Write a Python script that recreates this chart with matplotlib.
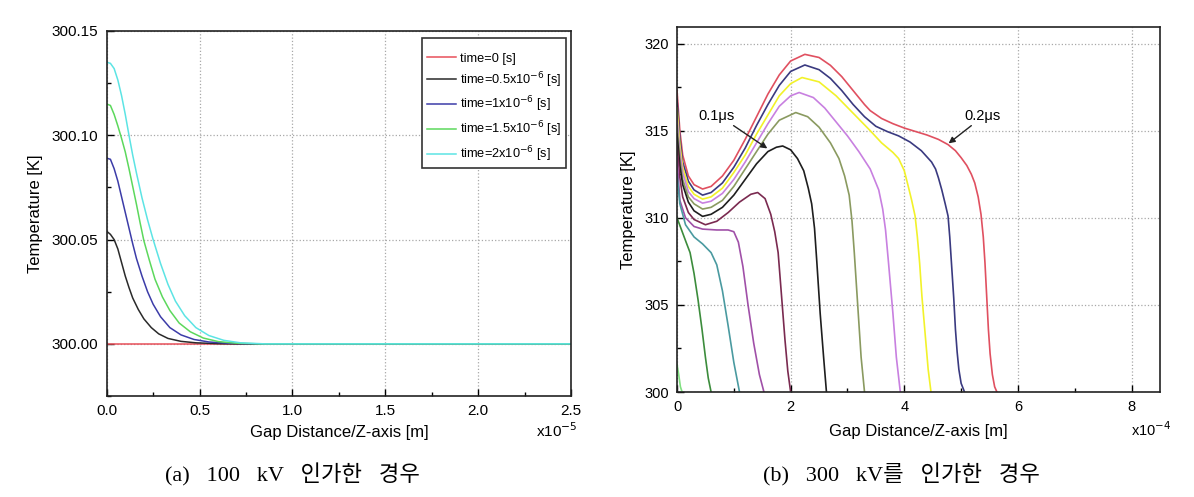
import numpy as np
import matplotlib.pyplot as plt
from matplotlib.ticker import MultipleLocator
from matplotlib.patches import Rectangle

plt.rcParams['font.family'] = ['Liberation Sans', 'DejaVu Sans']

# ---------- (a) 100 kV : x in units of 1e-5 m ----------
a_labels = ["time=0 [s]", "time=0.5x10$^{-6}$ [s]", "time=1x10$^{-6}$ [s]",
            "time=1.5x10$^{-6}$ [s]", "time=2x10$^{-6}$ [s]"]
a_colors = ["#e8505a", "#2a2a2a", "#3c3ca8", "#5cd85c", "#5ce4e4"]

a_x0 = [0.0, 2.5]
a_t0 = [300.0, 300.0]
a_x1 = [0.0, 0.02, 0.04, 0.06, 0.08, 0.10, 0.12, 0.14, 0.17, 0.20, 0.24, 0.28, 0.33,
        0.40, 0.48, 0.60, 0.70, 2.5]
a_t1 = [300.054, 300.0525, 300.050, 300.0455, 300.039, 300.0325, 300.027, 300.022,
        300.0165, 300.012, 300.0078, 300.0048, 300.0026, 300.0012, 300.0005,
        300.0001, 300.0, 300.0]
a_x2 = [0.0, 0.02, 0.04, 0.06, 0.08, 0.10, 0.12, 0.14, 0.16, 0.19, 0.22, 0.25, 0.29,
        0.34, 0.40, 0.47, 0.55, 0.65, 0.78, 2.5]
a_t2 = [300.089, 300.0885, 300.084, 300.078, 300.0705, 300.063, 300.0555, 300.048,
        300.041, 300.0325, 300.025, 300.019, 300.013, 300.0078, 300.0043, 300.0021,
        300.0009, 300.0003, 300.0, 300.0]
a_x3 = [0.0, 0.02, 0.04, 0.06, 0.08, 0.10, 0.12, 0.14, 0.16, 0.18, 0.20, 0.23, 0.26,
        0.30, 0.34, 0.39, 0.45, 0.52, 0.60, 0.70, 0.82, 2.5]
a_t3 = [300.115, 300.1143, 300.110, 300.1045, 300.0985, 300.092, 300.084, 300.0755,
        300.067, 300.058, 300.0495, 300.040, 300.031, 300.0225, 300.016, 300.010,
        300.0058, 300.0028, 300.0011, 300.0003, 300.0, 300.0]
a_x4 = [0.0, 0.02, 0.04, 0.06, 0.08, 0.10, 0.12, 0.14, 0.16, 0.19, 0.22, 0.25, 0.29,
        0.33, 0.37, 0.42, 0.48, 0.55, 0.63, 0.72, 0.85, 2.5]
a_t4 = [300.135, 300.1345, 300.132, 300.1265, 300.119, 300.110, 300.100, 300.0905,
        300.082, 300.070, 300.0595, 300.050, 300.0385, 300.0285, 300.0205, 300.0135,
        300.0078, 300.004, 300.0017, 300.0005, 300.0, 300.0]

# ---------- (b) 300 kV : x in units of 1e-4 m ----------
b_colors = ["#e05060", "#3a3a80", "#f2f22a", "#c880e0", "#8a9a60", "#1e1e1e",
            "#7a2a50", "#a050a8", "#4a9aa0", "#3c8c3c", "#80e080"]

b_red_x = [0, 0.05, 0.1, 0.2, 0.3, 0.45, 0.6, 0.8, 1.0, 1.2, 1.4, 1.6, 1.8, 2.0, 2.25,
           2.5, 2.7, 2.9, 3.1, 3.3, 3.4, 3.6, 3.8, 4.0, 4.2, 4.4, 4.6, 4.77, 4.9, 5.0,
           5.1, 5.18, 5.24, 5.3, 5.35, 5.39, 5.42, 5.45, 5.48, 5.51, 5.55, 5.59, 5.63]
b_red_t = [317.3, 315.0, 313.6, 312.4, 311.9, 311.65, 311.8, 312.4, 313.3, 314.5,
           315.8, 317.1, 318.2, 319.0, 319.38, 319.2, 318.75, 318.1, 317.3, 316.5,
           316.15, 315.7, 315.4, 315.15, 314.95, 314.75, 314.5, 314.2, 313.85, 313.45,
           313.0, 312.5, 312.0, 311.2, 310.2, 308.9, 307.4, 305.5, 303.6, 302.2,
           301.0, 300.3, 300.0]
b_navy_x = [0, 0.05, 0.1, 0.2, 0.3, 0.45, 0.6, 0.8, 1.0, 1.2, 1.4, 1.6, 1.8, 2.0, 2.25,
            2.5, 2.7, 2.9, 3.1, 3.3, 3.5, 3.7, 3.9, 4.1, 4.3, 4.48, 4.55, 4.6, 4.66,
            4.72, 4.77, 4.80, 4.83, 4.87, 4.9, 4.93, 4.96, 5.0, 5.06]
b_navy_t = [316.8, 314.6, 313.2, 312.1, 311.6, 311.3, 311.45, 312.0, 312.9, 314.0,
            315.3, 316.5, 317.6, 318.4, 318.77, 318.5, 318.0, 317.3, 316.5, 315.8,
            315.25, 314.95, 314.7, 314.35, 313.85, 313.2, 312.8, 312.3, 311.6, 310.8,
            310.1, 308.9, 307.4, 305.4, 303.6, 302.3, 301.3, 300.5, 300.0]
b_yel_x = [0, 0.05, 0.1, 0.2, 0.3, 0.45, 0.6, 0.8, 1.0, 1.2, 1.4, 1.6, 1.8, 2.0, 2.2,
           2.5, 2.8, 3.1, 3.4, 3.6, 3.8, 3.9, 4.0, 4.07, 4.13, 4.19, 4.23, 4.27, 4.31,
           4.36, 4.42, 4.47]
b_yel_t = [316.3, 314.2, 312.9, 311.8, 311.35, 311.07, 311.2, 311.7, 312.6, 313.6,
           314.8, 315.9, 317.0, 317.7, 318.05, 317.8, 317.0, 316.0, 315.0, 314.3,
           313.75, 313.4, 312.7, 311.8, 311.0, 310.1, 308.9, 307.4, 305.5, 303.6,
           301.3, 300.0]
b_vio_x = [0, 0.05, 0.1, 0.2, 0.3, 0.45, 0.6, 0.8, 1.0, 1.2, 1.4, 1.6, 1.8, 2.0, 2.15,
           2.4, 2.6, 2.8, 3.0, 3.2, 3.4, 3.55, 3.62, 3.67, 3.72, 3.76, 3.8, 3.86, 3.93]
b_vio_t = [315.8, 313.8, 312.6, 311.5, 311.1, 310.84, 310.95, 311.4, 312.2, 313.2,
           314.3, 315.4, 316.4, 317.0, 317.19, 316.9, 316.3, 315.5, 314.7, 313.8,
           312.8, 311.6, 310.5, 309.3, 307.5, 306.0, 304.5, 302.0, 300.0]
b_oli_x = [0, 0.05, 0.1, 0.2, 0.3, 0.45, 0.6, 0.8, 1.0, 1.2, 1.4, 1.6, 1.8, 2.09,
           2.3, 2.5, 2.7, 2.85, 2.95, 3.03, 3.08, 3.12, 3.18, 3.24, 3.3]
b_oli_t = [315.3, 313.4, 312.2, 311.2, 310.8, 310.5, 310.6, 311.0, 311.8, 312.8,
           313.8, 314.8, 315.6, 316.04, 315.8, 315.2, 314.3, 313.4, 312.4, 311.3,
           309.8, 308.0, 305.0, 302.0, 300.0]
b_blk_x = [0, 0.05, 0.1, 0.2, 0.3, 0.45, 0.6, 0.8, 1.0, 1.2, 1.4, 1.6, 1.75, 1.86,
           2.0, 2.12, 2.23, 2.31, 2.37, 2.42, 2.46, 2.52, 2.58, 2.63]
b_blk_t = [314.8, 313.0, 311.9, 310.9, 310.4, 310.08, 310.2, 310.6, 311.3, 312.2,
           313.1, 313.8, 314.05, 314.12, 313.9, 313.4, 312.7, 311.7, 310.8, 309.4,
           307.5, 304.5, 302.0, 300.0]
b_mar_x = [0, 0.05, 0.1, 0.2, 0.3, 0.5, 0.7, 0.9, 1.1, 1.3, 1.42, 1.55, 1.65, 1.72,
           1.78, 1.84, 1.9, 1.95, 2.0]
b_mar_t = [314.2, 312.3, 311.2, 310.3, 309.9, 309.6, 309.8, 310.3, 310.9, 311.35,
           311.45, 311.1, 310.2, 309.2, 308.0, 305.5, 303.0, 301.2, 300.0]
b_pur_x = [0, 0.05, 0.15, 0.3, 0.45, 0.7, 0.9, 1.0, 1.08, 1.16, 1.25, 1.35, 1.45, 1.53]
b_pur_t = [313.5, 311.0, 310.0, 309.5, 309.35, 309.3, 309.3, 309.2, 308.6, 307.2,
           305.0, 302.8, 301.0, 300.0]
b_tea_x = [0, 0.05, 0.15, 0.3, 0.45, 0.6, 0.7, 0.8, 0.9, 1.0, 1.1]
b_tea_t = [312.5, 310.8, 309.6, 308.9, 308.5, 308.0, 307.3, 305.8, 303.8, 301.7, 300.0]
b_grn_x = [0, 0.08, 0.16, 0.23, 0.3, 0.37, 0.44, 0.5, 0.55, 0.6]
b_grn_t = [310.0, 309.3, 308.6, 308.0, 306.8, 305.3, 303.6, 302.0, 300.8, 300.0]
b_lgr_x = [0, 0.03, 0.06, 0.09]
b_lgr_t = [301.6, 301.0, 300.3, 300.0]

b_xs = [b_red_x, b_navy_x, b_yel_x, b_vio_x, b_oli_x, b_blk_x, b_mar_x, b_pur_x,
        b_tea_x, b_grn_x, b_lgr_x]
b_ts = [b_red_t, b_navy_t, b_yel_t, b_vio_t, b_oli_t, b_blk_t, b_mar_t, b_pur_t,
        b_tea_t, b_grn_t, b_lgr_t]

W, H = 1194, 497
fig = plt.figure(figsize=(W / 100, H / 100), dpi=100)


def box(l, t, r, b):
    return [l / W, 1 - b / H, (r - l) / W, (b - t) / H]


def style(ax):
    ax.tick_params(which='both', direction='in', top=False, right=False)
    ax.tick_params(which='major', length=5, width=1, pad=6)
    ax.tick_params(which='minor', length=3, width=1)
    ax.grid(True, which='major', linestyle=':', color='#a8a8a8', linewidth=0.9)
    for s in ax.spines.values():
        s.set_linewidth(1.2)
        s.set_color('#222222')


# left panel
ax1 = fig.add_axes(box(106.7, 31, 571, 396))
for xs, ts, c, lab in zip([a_x0, a_x1, a_x2, a_x3, a_x4], [a_t0, a_t1, a_t2, a_t3, a_t4],
                          a_colors, a_labels):
    ax1.plot(xs, ts, color=c, lw=1.1, label=lab)
ax1.set_xlim(0, 2.5)
ax1.set_ylim(299.975, 300.15)
ax1.xaxis.set_major_locator(MultipleLocator(0.5))
ax1.xaxis.set_minor_locator(MultipleLocator(0.25))
ax1.yaxis.set_major_locator(MultipleLocator(0.05))
ax1.yaxis.set_minor_locator(MultipleLocator(0.025))
ax1.xaxis.set_major_formatter(lambda v, p: f"{v:.1f}")
ax1.yaxis.set_major_formatter(lambda v, p: f"{v:.2f}")
style(ax1)
ax1.tick_params(labelsize=11)
ax1.set_xlabel("Gap Distance/Z-axis [m]", fontsize=12, labelpad=5)
ax1.set_ylabel("Temperature [K]", fontsize=12, labelpad=6)
# legend box drawn separately: tight sides, generous top/bottom as in the source
ax1.add_patch(Rectangle((0.679, 0.625), 0.310, 0.356, transform=ax1.transAxes,
                        facecolor='white', edgecolor='#333333', lw=1.2, zorder=4))
leg = ax1.legend(loc='upper left', fontsize=9.2, handlelength=2.3, labelspacing=0.4,
                 frameon=False, borderpad=0, handletextpad=0.25, borderaxespad=0,
                 bbox_to_anchor=(0.690, 0.940))
leg.set_zorder(5)
fig.text(577 / W, 1 - 431 / H, "x10$^{-5}$", fontsize=11, ha='right', va='center')

# right panel
ax2 = fig.add_axes(box(677, 27, 1160, 392))
for xs, ts, c in zip(b_xs, b_ts, b_colors):
    ax2.plot(xs, ts, color=c, lw=1.2)
ax2.set_xlim(0, 8.5)
ax2.set_ylim(300, 320.95)
ax2.xaxis.set_major_locator(MultipleLocator(2))
ax2.xaxis.set_minor_locator(MultipleLocator(1))
ax2.yaxis.set_major_locator(MultipleLocator(5))
ax2.yaxis.set_minor_locator(MultipleLocator(2.5))
style(ax2)
ax2.tick_params(labelsize=10.5)
ax2.set_xlabel("Gap Distance/Z-axis [m]", fontsize=12, labelpad=7)
ax2.set_ylabel("Temperature [K]", fontsize=12, labelpad=6)
fig.text(1171 / W, 1 - 430 / H, "x10$^{-4}$", fontsize=10.5, ha='right', va='center')

arrow = dict(arrowstyle='-|>', color='#222222', lw=1.0, mutation_scale=9,
             shrinkA=0, shrinkB=0)
ax2.annotate("0.1\u03bcs", xy=(1.59, 313.98), xytext=(0.7, 315.85), fontsize=10.5,
             ha='center', va='center', arrowprops=dict(arrow, relpos=(0.85, 0.0)))
ax2.annotate("0.2\u03bcs", xy=(4.78, 314.27), xytext=(5.37, 315.85), fontsize=10.5,
             ha='center', va='center', arrowprops=dict(arrow, relpos=(0.3, 0.0)))

cap_font = ['Liberation Serif', 'Noto Sans CJK KR']
fig.text(292 / W, 1 - 475 / H, "(a)   100   kV   인가한   경우", fontsize=16,
         family=cap_font, ha='center', va='center')
fig.text(901 / W, 1 - 475 / H, "(b)   300   kV를   인가한   경우", fontsize=16,
         family=cap_font, ha='center', va='center')

fig.savefig("out.png", dpi=100)
